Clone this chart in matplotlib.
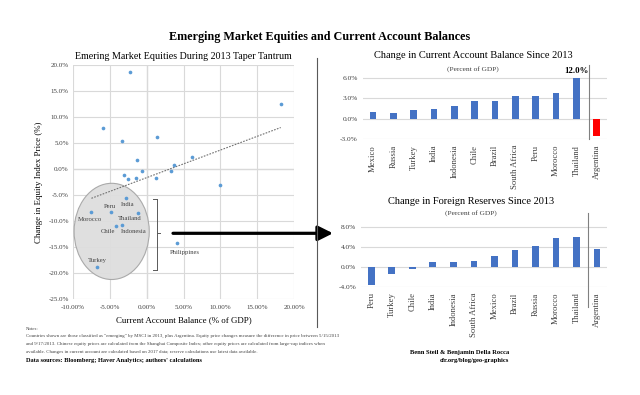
import numpy as np
import matplotlib
matplotlib.use("Agg")
import matplotlib.pyplot as plt
from matplotlib.patches import Ellipse
from matplotlib.lines import Line2D
from matplotlib.ticker import FuncFormatter, MultipleLocator, FixedLocator

plt.rcParams['font.family'] = ['Liberation Serif', 'DejaVu Serif']

# ---------------- data ----------------
# scatter: current account balance (% of GDP) vs equity index change (%)
ca_balance = [-2.3, 18.2, -5.9, -3.4, 1.4, -1.3, 6.1, 3.7, 3.3, -0.6, -3.1, -2.6,
              -1.4, 1.2, 10.0, -2.8, -7.5, -4.9, -1.2, -4.2, -3.3, 4.1, -6.8]
equity_change = [18.6, 12.5, 7.9, 5.4, 6.2, 1.8, 2.4, 0.8, -0.3, -0.3, -1.2, -1.9,
                 -1.7, -1.7, -3.0, -5.6, -8.3, -8.3, -8.5, -11.0, -10.7, -14.2, -18.9]
point_labels = ['', '', '', '', '', '', '', '', '', '', '', '',
                '', '', '', 'India', 'Morocco', 'Peru', 'Thailand', 'Chile',
                'Indonesia', 'Philippines', 'Turkey']

# bar chart 1: change in current account balance since 2013
ca_countries = ['Mexico', 'Russia', 'Turkey', 'India', 'Indonesia', 'Chile', 'Brazil',
                'South Africa', 'Peru', 'Morocco', 'Thailand', 'Argentina']
ca_change = [1.0, 0.9, 1.3, 1.4, 1.9, 2.6, 2.6, 3.4, 3.4, 3.8, 12.0, -2.5]
ca_cap = 6.0  # bars drawn no taller than this (Thailand is labelled instead)

# bar chart 2: change in foreign reserves since 2013
res_countries = ['Peru', 'Turkey', 'Chile', 'India', 'Indonesia', 'South Africa', 'Mexico',
                 'Brazil', 'Russia', 'Morocco', 'Thailand', 'Argentina']
res_change = [-3.7, -1.5, -0.5, 1.0, 0.9, 1.2, 2.1, 3.3, 4.2, 5.7, 5.9, 3.5]

# ---------------- layout helpers ----------------
W, H = 640, 395
fig = plt.figure(figsize=(W / 100, H / 100), dpi=100)
fig.patch.set_facecolor('white')


def fx(px):
    return px / W


def fy(py):
    return 1 - py / H


def ax_rect(x0, y0, x1, y1):
    return [fx(x0), fy(y1), fx(x1) - fx(x0), fy(y0) - fy(y1)]


GRID = '#d9d9d9'
BLUE = '#4472c4'
DOT = '#5b9bd5'
TXT = '#404040'

# ---------------- titles ----------------
fig.text(fx(320), fy(37), 'Emerging Market Equities and Current Account Balances',
         ha='center', va='center', fontsize=8.7, fontweight='bold', color='black')

# ---------------- scatter ----------------
ax = fig.add_axes(ax_rect(73, 65, 294, 299))
ax.set_xlim(-10, 20)
ax.set_ylim(-25, 20)
ax.xaxis.set_major_locator(MultipleLocator(5))
ax.yaxis.set_major_locator(MultipleLocator(5))
ax.grid(True, color=GRID, lw=0.8, zorder=0)
for s in ax.spines.values():
    s.set_visible(False)
ax.axhline(0, color='#808080', lw=0.8, zorder=1)
ax.axvline(0, color='#808080', lw=0.8, zorder=1)
ax.xaxis.set_major_formatter(FuncFormatter(lambda v, p: f'{v:.2f}%'))
ax.yaxis.set_major_formatter(FuncFormatter(lambda v, p: f'{v:.1f}%'))
ax.tick_params(length=0, labelsize=5, colors=TXT, pad=3)
ax.tick_params(axis='x', pad=4)
ax.set_xlabel('Current Account Balance (% of GDP)', fontsize=6.4, color='black', labelpad=5)
ax.set_ylabel('Change in Equity Index Price (%)', fontsize=6.4, color='black', labelpad=4)
ax.set_title('Emering Market Equities During 2013 Taper Tantrum', fontsize=7.2,
             color='black', pad=4)

ell = Ellipse((-4.75, -12.0), 10.2, 18.5, facecolor='#dedede', edgecolor='#a6a6a6',
              lw=0.8, alpha=0.95, zorder=2)
ax.add_patch(ell)

xs = np.array(ca_balance)
ys = np.array(equity_change)
m, b = np.polyfit(xs, ys, 1)
tx = np.array([xs.min(), xs.max()])
ax.plot(tx, m * tx + b, ls=(0, (1.5, 1.2)), color='#707070', lw=0.8, zorder=3)

ax.scatter(xs, ys, s=7, color=DOT, zorder=4, linewidths=0)

label_offsets = {'India': (2, -6), 'Morocco': (-1, -7), 'Peru': (-1, 6),
                 'Thailand': (-8, -5), 'Chile': (-8, -5), 'Indonesia': (11, -7),
                 'Philippines': (8, -10), 'Turkey': (1, 7)}
for x, y, lab in zip(ca_balance, equity_change, point_labels):
    if lab:
        dx, dy = label_offsets[lab]
        ax.annotate(lab, (x, y), xytext=(dx, dy), textcoords='offset pixels',
                    ha='center', va='center', fontsize=4.8, color=TXT, zorder=5)

# bracket
bx = 1.36
for seg in [((bx - 0.5, bx), (-5.83, -5.83)), ((bx, bx), (-5.83, -19.4)),
            ((bx - 0.5, bx), (-19.4, -19.4)), ((bx, bx + 0.45), (-12.4, -12.4))]:
    ax.add_line(Line2D(seg[0], seg[1], color='#595959', lw=0.7, zorder=5))

# arrow
ax.annotate('', xy=(333, H - 233.3), xytext=(173, H - 233.3),
            xycoords='figure pixels', textcoords='figure pixels',
            arrowprops=dict(arrowstyle='-|>,head_length=0.9,head_width=0.45',
                            lw=2.3, color='black', shrinkA=0, shrinkB=0),
            annotation_clip=False)

# separator line
fig.add_artist(Line2D([fx(317.3), fx(317.3)], [fy(58), fy(327)], color='#595959', lw=0.8))

# ---------------- bar chart helpers ----------------


def bar_axes(rect, cats, vals, colors, ylim, ticks, title_y, sub_y, title, cx, sep, tsize):
    a = fig.add_axes(rect)
    pos = np.arange(len(cats))
    a.bar(pos, vals, width=0.33, color=colors, zorder=3)
    a.set_xlim(-0.5, len(cats) - 0.5)
    a.set_ylim(*ylim)
    a.yaxis.set_major_locator(FixedLocator(ticks))
    a.yaxis.set_major_formatter(FuncFormatter(lambda v, p: f'{v:.1f}%'))
    a.grid(True, axis='y', color=GRID, lw=0.8, zorder=0)
    for s in a.spines.values():
        s.set_visible(False)
    a.set_xticks(pos)
    a.set_xticklabels(cats, rotation=90, fontsize=6.2, color=TXT)
    a.tick_params(length=0, labelsize=5.3, colors=TXT)
    a.tick_params(axis='x', labelsize=6.2, pad=4)
    fig.text(fx(cx), fy(title_y), title, ha='center', va='center', fontsize=tsize, color='black')
    fig.text(fx(cx), fy(sub_y), '(Percent of GDP)', ha='center', va='center',
             fontsize=5.3, color=TXT)
    fig.add_artist(Line2D([fx(sep[0]), fx(sep[0])], [fy(sep[1]), fy(sep[2])],
                          color='#808080', lw=0.8))
    return a


# top bar chart
ca_plot = np.minimum(np.array(ca_change), ca_cap)
ca_colors = [BLUE] * (len(ca_countries) - 1) + ['#ff0000']
a1 = bar_axes(ax_rect(362.7, 64.1, 607, 139.2), ca_countries, ca_plot, ca_colors,
              (-3, 8), [-3, 0, 3, 6], 56, 69, 'Change in Current Account Balance Since 2013',
              473, (589.3, 65, 139), 7.45)
i_th = ca_countries.index('Thailand')
a1.text(i_th, ca_plot[i_th] + 0.45, f'{ca_change[i_th]:.1f}%', ha='center', va='bottom',
        fontsize=6.3, color='black', fontweight='bold')

# bottom bar chart
a2 = bar_axes(ax_rect(361, 216.7, 607.3, 286.7), res_countries, res_change,
              [BLUE] * len(res_countries), (-4, 10), [-4, 0, 4, 8], 201, 213,
              'Change in Foreign Reserves Since 2013', 471, (588.3, 212.7, 307.3), 7.45)

# ---------------- notes ----------------
fig.text(fx(26), fy(329), 'Notes:', fontsize=3.55, color=TXT, va='center', ha='left')
notes = ['Countries shown are those classified as "emerging" by MSCI in 2013, plus Argentina. '
         'Equity price changes measure the difference in price between 5/15/2013',
         'and 9/17/2013. Chinese equity prices are calculated from the Shanghai Composite Index; '
         'other equity prices are calculated from large-cap indices when',
         'available. Changes in current account are calculated based on 2017 data; '
         'reserve calculations use latest data available.']
for yy, line in zip([336, 344, 352], notes):
    fig.text(fx(26), fy(yy), line, fontsize=3.55, color=TXT, va='center', ha='left')
fig.text(fx(26), fy(360.5), "Data sources: Bloomberg; Haver Analytics; authors' calculations",
         fontsize=4.6, fontweight='bold', color='black', va='center', ha='left')
fig.text(fx(509), fy(352.3), 'Benn Steil & Benjamin Della Rocca', fontsize=4.7,
         fontweight='bold', color='black', va='center', ha='right')
fig.text(fx(509), fy(360.5), 'cfr.org/blog/geo-graphics', fontsize=4.7,
         fontweight='bold', color='black', va='center', ha='right')

fig.savefig('out.png', dpi=100)
